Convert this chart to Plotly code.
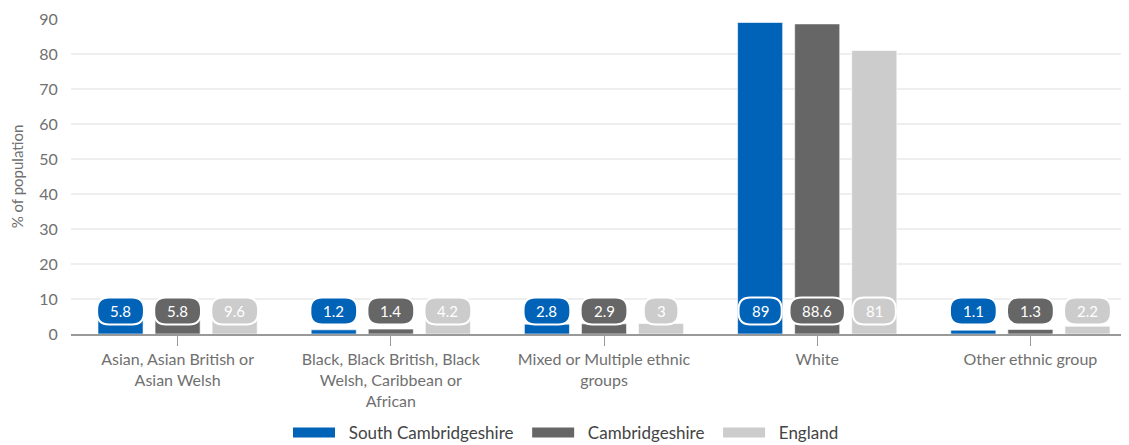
import plotly.graph_objects as go

categories = ["Asian, Asian British or<br>Asian Welsh",
              "Black, Black British, Black<br>Welsh, Caribbean or<br>African",
              "Mixed or Multiple ethnic<br>groups",
              "White",
              "Other ethnic group"]
series_names = ["South Cambridgeshire", "Cambridgeshire", "England"]
south_cambs = [5.8, 1.2, 2.8, 89, 1.1]
cambs = [5.8, 1.4, 2.9, 88.6, 1.3]
england = [9.6, 4.2, 3, 81, 2.2]
colors = ["#0063b8", "#666666", "#cccccc"]
y_ticks = [0, 10, 20, 30, 40, 50, 60, 70, 80, 90]

FONT = "Lato"
TXT = "#707070"
NB = "\u00a0"

all_series = [south_cambs, cambs, england]
xs = list(range(len(categories)))

fig = go.Figure()
for name, vals, col in zip(series_names, all_series, colors):
    fig.add_trace(go.Bar(
        x=xs, y=vals, name=name, showlegend=False,
        marker=dict(color=col, line=dict(color="rgba(255,255,255,0.6)", width=1)),
        hoverinfo="skip",
    ))
# legend entries drawn as thick line swatches
for name, col in zip(series_names, colors):
    fig.add_trace(go.Scatter(
        x=[None], y=[None], mode="lines", name=NB * 2 + name + NB * 2,
        line=dict(color=col, width=16), hoverinfo="skip",
    ))

L, R, T, B = 63, 0, 11, 119
W, H = 1129, 445
xrange = [-0.5, 4.5]
plot_w = W - L - R
plot_h = H - T - B
px_per_cat = plot_w / (xrange[1] - xrange[0])
bargap = 0.197
bargroupgap = 0.21
slot = px_per_cat * (1 - bargap) / 3


def txt_width(s):
    return sum(3.6 if ch == "." else 8.6 for ch in s)


def pill(w, h, cx, cy, r):
    x0, x1 = cx - w / 2, cx + w / 2
    y0, y1 = cy - h / 2, cy + h / 2
    return (f"M{x0 + r:.2f},{y0} H{x1 - r:.2f} Q{x1:.2f},{y0} {x1:.2f},{y0 + r} V{y1 - r} "
            f"Q{x1:.2f},{y1} {x1 - r:.2f},{y1} H{x0 + r:.2f} Q{x0:.2f},{y1} {x0:.2f},{y1 - r} "
            f"V{y0 + r} Q{x0:.2f},{y0} {x0 + r:.2f},{y0} Z")


cy = 23
for si, (vals, col) in enumerate(zip(all_series, colors)):
    off = (si - 1) * slot
    for ci, v in zip(xs, vals):
        label = f"{v:g}"
        w = txt_width(label) + 26
        fig.add_shape(type="path", xref="x", yref="y",
                      xsizemode="pixel", ysizemode="pixel",
                      xanchor=ci, yanchor=0,
                      path=pill(w, 27, off, cy, 12),
                      fillcolor=col, line=dict(color="white", width=2),
                      layer="above")
        fig.add_annotation(x=ci, y=0, xref="x", yref="y", text=label,
                           showarrow=False, xshift=off, yshift=cy,
                           font=dict(family=FONT, size=15, color="white"))

fig.update_layout(
    width=W, height=H,
    margin=dict(l=L, r=R, t=T, b=B, autoexpand=False),
    paper_bgcolor="white", plot_bgcolor="white",
    barmode="group", bargap=bargap, bargroupgap=bargroupgap,
    font=dict(family=FONT, size=16, color=TXT),
    showlegend=True,
    legend=dict(orientation="h", xref="paper", yref="paper",
                x=(570 - 8 - L) / plot_w, xanchor="center",
                y=-(433 - 8 - T - plot_h) / plot_h, yanchor="middle",
                itemwidth=42,
                font=dict(family=FONT, size=17, color="#444444"),
                itemclick=False, itemdoubleclick=False),
    xaxis=dict(tickmode="array", tickvals=xs,
               ticktext=categories, range=xrange, automargin=False,
               showline=True, linecolor="#999999", linewidth=1.5,
               ticks="outside", ticklen=10, tickcolor="#999999",
               showgrid=False, zeroline=False,
               tickfont=dict(family=FONT, size=16, color=TXT)),
    yaxis=dict(range=[0, 90], tickvals=y_ticks, showgrid=True, automargin=False,
               gridcolor="#eeeeee", gridwidth=1.5, zeroline=False,
               ticks="outside", ticklen=9, tickcolor="white",
               title=dict(text="% of population", standoff=11,
                          font=dict(family=FONT, size=15, color=TXT)),
               tickfont=dict(family=FONT, size=16, color=TXT)),
)

fig.write_html("out.html")
